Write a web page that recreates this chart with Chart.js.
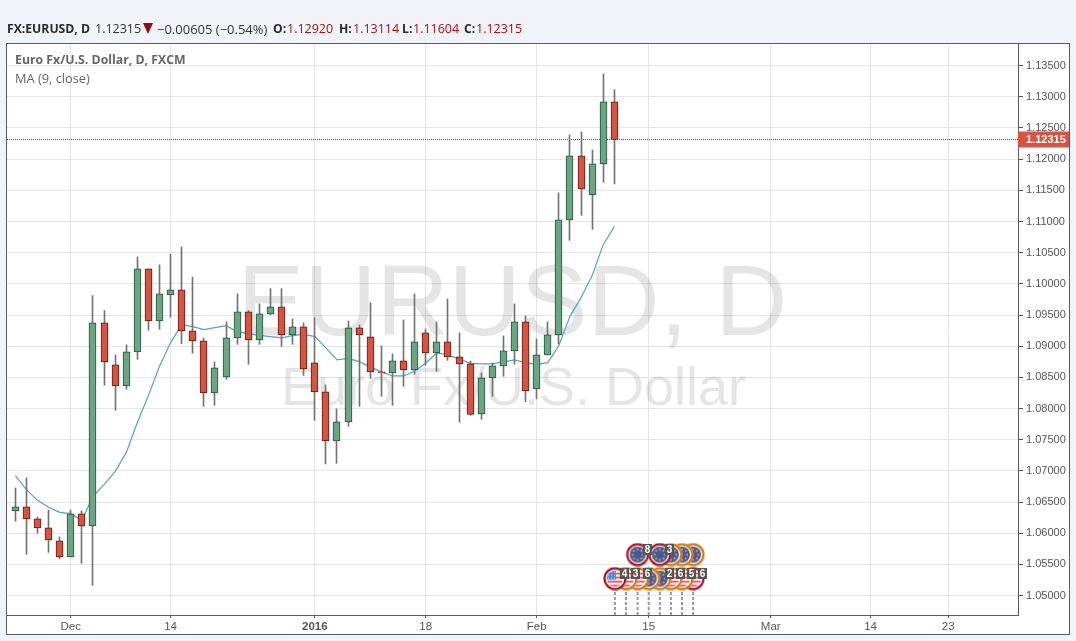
<!DOCTYPE html>
<html><head><meta charset="utf-8">
<script src="https://cdn.jsdelivr.net/npm/chart.js@4"></script>
<style>
html,body{margin:0;padding:0;background:#f0f3f7;width:1076px;height:641px;overflow:hidden}
#c{position:absolute;left:0;top:0}
.t{position:absolute;white-space:nowrap;font-family:"Open Sans",sans-serif;font-size:12.5px;line-height:16px;top:21px;color:#333}
.b{font-weight:700;color:#2a2a2a;font-size:12.2px}.r{color:#a80f14}
.l{position:absolute;left:15px;white-space:nowrap;font-family:"Open Sans",sans-serif;font-size:12.8px;line-height:16px;color:#666}
</style></head><body>
<canvas id="c" width="1076" height="641"></canvas>
<div class="t b" style="left:7px">FX:EURUSD, D</div>
<div class="t" style="left:95px">1.12315</div>
<div class="t" style="left:143px;top:23px;width:0;height:0;border-left:5.5px solid transparent;border-right:5.5px solid transparent;border-top:11px solid #8f0c10"></div>
<div class="t" style="left:157px;font-size:13px">−0.00605 (−0.54%)</div>
<div class="t b" style="left:273px">O:</div><div class="t r" style="left:287px">1.12920</div>
<div class="t b" style="left:339px">H:</div><div class="t r" style="left:353px">1.13114</div>
<div class="t b" style="left:402px">L:</div><div class="t r" style="left:413px">1.11604</div>
<div class="t b" style="left:464px">C:</div><div class="t r" style="left:476px">1.12315</div>
<div class="l" style="top:52px;font-weight:700;font-size:12.3px">Euro Fx/U.S. Dollar, D, FXCM</div>
<div class="l" style="top:70px">MA (9, close)</div>
<script>
const openP=[1.06358,1.06423,1.06230,1.06086,1.05877,1.05621,1.06310,1.06118,1.09374,1.08700,1.08363,1.08908,1.10240,1.09406,1.09823,1.09903,1.09245,1.09085,1.08251,1.08507,1.09133,1.09550,1.09101,1.09518,1.09630,1.09181,1.09309,1.08732,1.08267,1.07481,1.07786,1.09293,1.09149,1.08588,1.08572,1.08764,1.08620,1.09213,1.08892,1.09069,1.08828,1.08716,1.07914,1.08491,1.08684,1.08924,1.09390,1.08315,1.08860,1.09181,1.11025,1.12052,1.11426,1.11924,1.12920];
const closeP=[1.06423,1.06230,1.06086,1.05893,1.05621,1.06310,1.06118,1.09374,1.08748,1.08363,1.08908,1.10240,1.09406,1.09839,1.09903,1.09245,1.09085,1.08251,1.08652,1.09133,1.09550,1.09101,1.09518,1.09630,1.09181,1.09309,1.08636,1.08267,1.07481,1.07786,1.09293,1.09181,1.08588,1.08572,1.08764,1.08620,1.09069,1.08892,1.09069,1.08828,1.08716,1.07908,1.08491,1.08684,1.08924,1.09390,1.08283,1.08860,1.09181,1.11025,1.12052,1.11523,1.11924,1.12920,1.12315];
const highP=[1.06727,1.06888,1.06262,1.06374,1.05941,1.06374,1.06358,1.09811,1.09571,1.08860,1.09021,1.10432,1.10240,1.10304,1.10480,1.10592,1.10111,1.09133,1.08748,1.09390,1.09839,1.09571,1.09678,1.09924,1.09924,1.09438,1.09374,1.09454,1.08379,1.07994,1.09406,1.09341,1.09694,1.09005,1.08876,1.09422,1.09839,1.09277,1.09390,1.09758,1.09213,1.08764,1.08572,1.08732,1.09165,1.09678,1.09486,1.09117,1.09390,1.11458,1.12389,1.12437,1.12148,1.13367,1.13114];
const lowP=[1.06192,1.05662,1.05999,1.05694,1.05589,1.05621,1.05518,1.05165,1.08373,1.07972,1.08309,1.08790,1.09255,1.09271,1.09463,1.09042,1.08886,1.08036,1.08052,1.08469,1.09030,1.08710,1.09030,1.09502,1.08998,1.09030,1.08533,1.07811,1.07112,1.07122,1.07715,1.08036,1.08485,1.08196,1.08052,1.08357,1.08549,1.08694,1.08597,1.08774,1.07779,1.07892,1.07827,1.08196,1.08517,1.08710,1.08107,1.08155,1.08860,1.09037,1.10698,1.11099,1.10875,1.11628,1.11604];
const maP=[1.06925,1.06700,1.06528,1.06416,1.06336,1.06315,1.06203,1.06593,1.06780,1.06989,1.07293,1.07775,1.08208,1.08678,1.09058,1.09346,1.09314,1.09266,1.09298,1.09330,1.09234,1.09202,1.09175,1.09154,1.09133,1.09170,1.09191,1.09154,1.08973,1.08780,1.08806,1.08753,1.08668,1.08588,1.08523,1.08523,1.08597,1.08732,1.08892,1.08860,1.08796,1.08726,1.08716,1.08716,1.08748,1.08780,1.08737,1.08705,1.08737,1.09010,1.09479,1.09779,1.10132,1.10629,1.10918];
const xTickPos=[5,14,27,37,47,57.1,68.1,77.1,84.1];
const xTickLabels=['Dec','14','2016','18','Feb','15','Mar','14','23'];
const yTicks=[1.05,1.055,1.06,1.065,1.07,1.075,1.08,1.085,1.09,1.095,1.10,1.105,1.11,1.115,1.12,1.125,1.13,1.135];
const lastPrice=1.12315;
const xMin=-0.748,xMax=90.39,yMin=1.04689,yMax=1.13847;
const bottomX=[54.05,55.05,56.1,57.1,58.1,59.1,60.1,61.1];
const bottomKind=['us','us','us','eu','eu','us','us','us'];
const bottomRing=['#a5141b','#d4780f','#d4780f','#d4780f','#d4780f','#d4780f','#d4780f','#a5141b'];
const bottomText=['4','3','6','','2','6','5','6'];
const bottomY=1.05273;
const topX=[56.1,58.1,59.1,60.1,61.1];
const topRing=['#a5141b','#a5141b','#d4780f','#d4780f','#d4780f'];
const topText=['8','3','','',''];
const topY=1.05658;
const stemLow=1.04689,stemHigh=1.05096;

const idx=openP.map((_,i)=>i);
const UP='#6ba583',UPB='#225437',DN='#d75442',DNB='#5b1a13';
const isUp=i=>closeP[i]>=openP[i];

function flag(kind,ring){
  const c=document.createElement('canvas');c.width=c.height=24;const g=c.getContext('2d');
  g.beginPath();g.arc(12,12,11.4,0,7);g.fillStyle='#fff';g.fill();
  g.save();g.beginPath();g.arc(12,12,8,0,7);g.clip();
  if(kind==='us'){
    g.fillStyle='#fff';g.fillRect(0,0,24,24);
    g.fillStyle='#e4606a';for(let y=4;y<22;y+=4)g.fillRect(0,y+2,24,2);
    g.fillStyle='#4f86d8';g.fillRect(3,3,10,10);
    g.fillStyle='#cfe0f7';for(let a=5;a<13;a+=3)for(let b=5;b<13;b+=3)g.fillRect(a,b,1,1);
  }else{
    g.fillStyle='#47589f';g.fillRect(0,0,24,24);
    g.fillStyle='#e8b23e';
    for(let k=0;k<8;k++){const a=k*Math.PI/4;g.beginPath();g.arc(12+5.2*Math.cos(a),12+5.2*Math.sin(a),1,0,7);g.fill();}
  }
  g.restore();
  g.beginPath();g.arc(12,12,10.4,0,7);g.lineWidth=2.2;g.strokeStyle=ring;g.stroke();
  return c;
}
const bottomImgs=bottomX.map((_,i)=>flag(bottomKind[i],bottomRing[i]));
const topImgs=topX.map((_,i)=>flag('eu',topRing[i]));
const rev=a=>a.slice().reverse();
const bottomPts=rev(bottomX.map(x=>({x,y:bottomY})));
const topPts=rev(topX.map(x=>({x,y:topY})));
const bottomImgR=rev(bottomImgs),topImgR=rev(topImgs);
const stems=[];bottomX.forEach(x=>{stems.push({x,y:stemLow},{x,y:stemHigh},{x,y:null});});

const frame={id:'frame',
  beforeDraw(ch){const g=ch.ctx;g.save();g.fillStyle='#fff';g.fillRect(6,43,1064,592);
    g.strokeStyle='#5a5a5a';g.lineWidth=1;g.strokeRect(6.5,43.5,1063,591);g.restore();},
  afterDatasetsUpdate(ch){
    [0,1].forEach(d=>ch.getDatasetMeta(d).data.forEach(el=>{el.x=Math.floor(el.x)+0.5;}));
  },
  beforeDatasetsDraw(ch){const g=ch.ctx,a=ch.chartArea;g.save();
    g.beginPath();g.rect(a.left,a.top,a.width,a.height);g.clip();
    g.fillStyle='rgba(0,0,0,0.1)';g.textBaseline='alphabetic';g.textAlign='center';
    g.font='100px "Liberation Sans"';g.fillText('EURUSD, D',512.5,335);
    g.font='54px "Liberation Sans"';g.fillText('Euro Fx/U.S. Dollar',513.5,405);
    g.restore();},
  afterDraw(ch){const g=ch.ctx,sx=ch.scales.x,sy=ch.scales.y;g.save();
    const py=Math.floor(sy.getPixelForValue(lastPrice));
    g.fillStyle='#d75442';g.fillRect(1018,py-7.5,51,16);
    g.fillStyle='#fff';g.font='bold 11px "Liberation Sans"';g.textBaseline='middle';g.textAlign='left';
    g.fillText(lastPrice.toFixed(5),1026,py+0.5);
    const tag=(x,y,t)=>{if(!t)return;const px=sx.getPixelForValue(x)+9.5,yy=sy.getPixelForValue(y)-5;
      g.fillStyle='#555';g.fillRect(Math.round(px-4.5),Math.round(yy-5.5),9,11);
      g.fillStyle='#fff';g.font='bold 10px "Liberation Sans"';g.textAlign='center';g.textBaseline='middle';
      g.fillText(t,Math.round(px-4.5)+4.5,Math.round(yy-5.5)+6);};
    topX.forEach((x,i)=>tag(x,topY,topText[i]));
    bottomX.forEach((x,i)=>tag(x,bottomY,bottomText[i]));
    g.restore();}
};

new Chart(document.getElementById('c'),{
  type:'bar',
  plugins:[frame],
  data:{datasets:[
    {label:'wick',order:3,grouped:false,barThickness:1,borderWidth:0,backgroundColor:'#737375',
     data:idx.map(i=>({x:i,y:[lowP[i],highP[i]]}))},
    {label:'body',order:2,grouped:false,barThickness:7,borderWidth:1,borderSkipped:false,
     backgroundColor:c=>isUp(c.dataIndex)?UP:DN,borderColor:c=>isUp(c.dataIndex)?UPB:DNB,
     data:idx.map(i=>({x:i,y:[openP[i],closeP[i]]}))},
    {type:'line',label:'MA',order:4,borderColor:'#5a9fc4',borderWidth:1.2,pointRadius:0,tension:0,
     data:idx.map(i=>({x:i,y:maP[i]}))},
    {type:'line',label:'last',order:5,borderColor:'#8f3a30',borderWidth:1,borderDash:[1,1],pointRadius:0,
     data:[{x:xMin,y:lastPrice},{x:xMax,y:lastPrice}]},
    {type:'line',label:'stems',order:1,borderColor:'#999',borderWidth:2,borderDash:[3,2],pointRadius:0,spanGaps:false,
     data:stems},
    {type:'line',label:'evTop',order:0.6,showLine:false,pointStyle:c=>topImgR[c.dataIndex],pointRadius:11,data:topPts},
    {type:'line',label:'evBottom',order:0.5,showLine:false,pointStyle:c=>bottomImgR[c.dataIndex],pointRadius:11,data:bottomPts}
  ]},
  options:{
    responsive:false,animation:false,devicePixelRatio:1,
    layout:{autoPadding:false,padding:{left:7,top:44,right:7,bottom:7}},
    plugins:{legend:{display:false},tooltip:{enabled:false}},
    events:[],
    scales:{
      x:{type:'linear',min:xMin,max:xMax,offset:false,
        afterBuildTicks:s=>{s.ticks=xTickPos.map(v=>({value:v}));},
        afterFit:s=>{s.height=19;s.paddingLeft=0;s.paddingRight=0;},
        grid:{offset:false,color:'#e6e6e6',tickColor:'#555',tickLength:3,drawTicks:true},
        border:{color:'#5a5a5a',width:1},
        ticks:{autoSkip:false,maxRotation:0,includeBounds:false,padding:2,color:'#555',
          font:c=>({family:'"Liberation Sans"',size:11.5,weight:c.index===2?'bold':'normal'}),
          callback:(v,i)=>xTickLabels[i]}},
      y:{type:'linear',position:'right',min:yMin,max:yMax,
        afterBuildTicks:s=>{s.ticks=yTicks.map(v=>({value:v}));},
        afterFit:s=>{s.width=51;s.paddingTop=0;s.paddingBottom=0;},
        grid:{color:'#e6e6e6',tickColor:'#555',tickLength:5},
        border:{color:'#5a5a5a',width:1},
        ticks:{autoSkip:false,padding:3,color:'#555',font:{family:'"Liberation Sans"',size:11},
          callback:v=>v.toFixed(5)}}
    }
  }
});
</script>
</body></html>
